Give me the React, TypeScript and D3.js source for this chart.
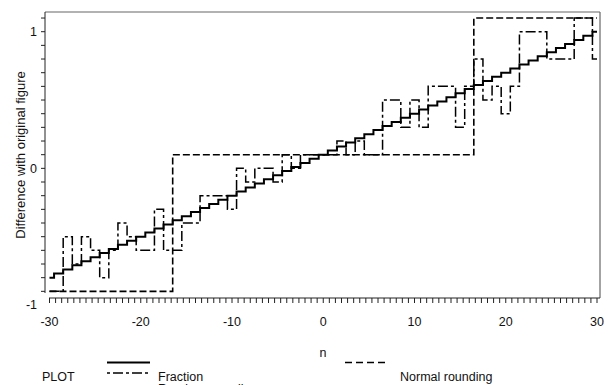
import React from 'react';
import * as d3 from 'd3';

// n values on the x axis
const nValues = [
  -30, -29, -28, -27, -26, -25, -24, -23, -22, -21, -20, -19, -18, -17, -16, -15,
  -14, -13, -12, -11, -10, -9, -8, -7, -6, -5, -4, -3, -2, -1, 0, 1, 2, 3, 4, 5,
  6, 7, 8, 9, 10, 11, 12, 13, 14, 15, 16, 17, 18, 19, 20, 21, 22, 23, 24, 25, 26,
  27, 28, 29, 30,
];

// Fraction (solid)
const fraction = [
  -0.80, -0.77, -0.74, -0.71, -0.68, -0.65, -0.62, -0.59, -0.56, -0.53, -0.50,
  -0.47, -0.44, -0.41, -0.38, -0.35, -0.32, -0.29, -0.26, -0.23, -0.20, -0.17,
  -0.14, -0.11, -0.08, -0.05, -0.02, 0.01, 0.04, 0.07, 0.10, 0.13, 0.16, 0.19,
  0.22, 0.25, 0.28, 0.31, 0.34, 0.37, 0.40, 0.43, 0.46, 0.49, 0.52, 0.55, 0.58,
  0.61, 0.64, 0.67, 0.70, 0.73, 0.76, 0.79, 0.82, 0.85, 0.88, 0.91, 0.94, 0.97, 1.00,
];

// Random rounding (dash-dot)
const randomRounding = [
  -0.9, -0.9, -0.5, -0.7, -0.5, -0.6, -0.8, -0.6, -0.4, -0.5, -0.6, -0.6, -0.3,
  -0.6, -0.6, -0.4, -0.4, -0.2, -0.2, -0.2, -0.3, 0.0, -0.1, 0.0, 0.0, -0.1, 0.1,
  0.0, 0.1, 0.1, 0.1, 0.1, 0.2, 0.1, 0.2, 0.1, 0.1, 0.5, 0.5, 0.3, 0.5, 0.3, 0.6,
  0.6, 0.6, 0.3, 0.6, 0.8, 0.5, 0.6, 0.4, 0.6, 1.0, 1.0, 1.0, 0.8, 0.8, 0.8, 1.1,
  1.1, 0.8,
];

// Normal rounding (dashed)
const normalRounding = [
  -0.9, -0.9, -0.9, -0.9, -0.9, -0.9, -0.9, -0.9, -0.9, -0.9, -0.9, -0.9, -0.9, -0.9,
  0.1, 0.1, 0.1, 0.1, 0.1, 0.1, 0.1, 0.1, 0.1, 0.1, 0.1, 0.1, 0.1, 0.1, 0.1, 0.1, 0.1,
  0.1, 0.1, 0.1, 0.1, 0.1, 0.1, 0.1, 0.1, 0.1, 0.1, 0.1, 0.1, 0.1, 0.1, 0.1, 0.1,
  1.1, 1.1, 1.1, 1.1, 1.1, 1.1, 1.1, 1.1, 1.1, 1.1, 1.1, 1.1, 1.1, 1.1,
];

const xTickLabels = [-30, -20, -10, 0, 10, 20, 30];
const yTickLabels = [-1, 0, 1];

const W = 611;
const H = 385;
const font = '"Liberation Sans", Arial, sans-serif';

export default function App() {
  const x = d3.scaleLinear().domain([-30, 30]).range([49.5, 597]);
  const y = d3.scaleLinear().domain([-1, 1]).range([305, 31.7]);

  const line = (vals: number[]) =>
    d3
      .line<number>()
      .x((_, i) => x(nValues[i]))
      .y((d) => y(d))
      .curve(d3.curveStep)(vals) || '';

  const yMinor = d3.range(-9, 12).map((v) => v / 10);
  const xMinor = d3.range(0, 91).map((i) => -30 + (i * 60) / 90);

  return (
    <svg
      width={W}
      height={H}
      style={{ position: 'absolute', left: 0, top: 0, background: '#fff' }}
      fontFamily={font}
    >
      {/* frame */}
      <line x1={45} x2={600} y1={12} y2={12} stroke="#666" strokeWidth={1.2} />
      <line x1={600} x2={600} y1={12} y2={298} stroke="#666" strokeWidth={1.2} />

      {/* y axis */}
      <line x1={45} x2={45} y1={12} y2={293} stroke="#222" strokeWidth={1} />
      {yMinor.map((v) => (
        <line key={v} x1={41} x2={45} y1={y(v)} y2={y(v)} stroke="#222" />
      ))}
      {yTickLabels.map((v) => (
        <text key={v} x={37} y={y(v)} dy="0.35em" textAnchor="end" fontSize={12.5} fill="#111">
          {v}
        </text>
      ))}
      <text
        transform={`translate(25,155) rotate(-90)`}
        textAnchor="middle"
        fontSize={13}
        fill="#111"
      >
        Difference with original figure
      </text>

      {/* x axis */}
      <line x1={49} x2={600} y1={298} y2={298} stroke="#222" strokeWidth={1} />
      {xMinor.map((v, i) => (
        <line key={i} x1={x(v)} x2={x(v)} y1={298} y2={303} stroke="#222" />
      ))}
      {xTickLabels.map((v) => (
        <text key={v} x={x(v)} y={326} textAnchor="middle" fontSize={12.5} fill="#111">
          {v}
        </text>
      ))}
      <text x={323} y={357} textAnchor="middle" fontSize={12.5} fill="#111">
        n
      </text>

      {/* series */}
      <path d={line(normalRounding)} fill="none" stroke="#000" strokeWidth={1.6} strokeDasharray="7,3" />
      <path d={line(randomRounding)} fill="none" stroke="#000" strokeWidth={1.5} strokeDasharray="10,3,3,3" />
      <path d={line(fraction)} fill="none" stroke="#000" strokeWidth={2} />

      {/* legend */}
      <text x={42} y={381} fontSize={12.5} fill="#111">PLOT</text>
      <line x1={107} x2={150} y1={362.5} y2={362.5} stroke="#000" strokeWidth={2} />
      <line x1={107} x2={150} y1={373} y2={373} stroke="#000" strokeWidth={1.5} strokeDasharray="3,3,10,3" />
      <text x={158} y={381} fontSize={12.5} fill="#111">Fraction</text>
      <text x={158} y={393} fontSize={12.5} fill="#111">Random rounding</text>
      <line x1={345} x2={388} y1={362.5} y2={362.5} stroke="#000" strokeWidth={1.6} strokeDasharray="7,4" />
      <text x={400} y={381} fontSize={12.5} fill="#111">Normal rounding</text>
    </svg>
  );
}
